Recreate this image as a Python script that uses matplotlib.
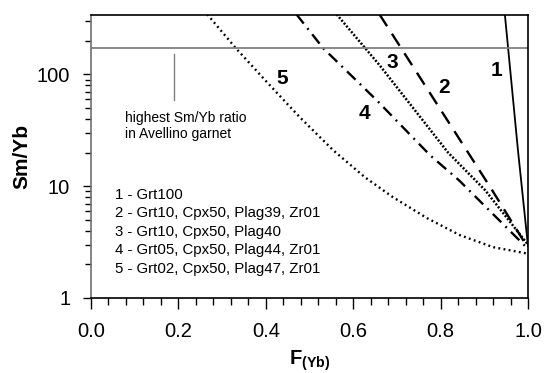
import matplotlib.pyplot as plt
from matplotlib.ticker import LogLocator, NullFormatter, FixedLocator, FixedFormatter, MultipleLocator

plt.rcParams['font.family'] = ['Liberation Sans', 'DejaVu Sans']
plt.rcParams['mathtext.fontset'] = 'custom'
plt.rcParams['mathtext.rm'] = 'Liberation Sans'
plt.rcParams['mathtext.bf'] = 'Liberation Sans:bold'

# curves (F(Yb), Sm/Yb)
f1 = [0.947, 0.977, 1.0]
y1 = [345, 21, 2.9]
f2 = [0.660, 0.874, 0.918, 1.0]
y2 = [345, 17.1, 9.2, 2.8]
f3 = [0.562, 0.661, 0.817, 0.902, 1.0]
y3 = [345, 120, 20, 9.2, 3.0]
f4 = [0.470, 0.531, 0.654, 0.776, 0.842, 1.0]
y4 = [345, 172, 58.6, 18.9, 11.3, 2.75]
f5 = [0.266, 0.330, 0.403, 0.478, 0.554, 0.627, 0.691, 0.769, 0.844, 0.920, 0.993, 1.0]
y5 = [345, 174, 84.9, 41.3, 21.0, 12.0, 7.97, 5.18, 3.65, 2.85, 2.52, 2.48]

garnet_max = 172
curve_ids = ['1', '2', '3', '4', '5']
id_x = [0.929, 0.808, 0.689, 0.625, 0.437]
id_y = [109, 76.5, 128, 44.9, 92]
legend_lines = ['1 - Grt100',
                '2 - Grt10, Cpx50, Plag39, Zr01',
                '3 - Grt10, Cpx50, Plag40',
                '4 - Grt05, Cpx50, Plag44, Zr01',
                '5 - Grt02, Cpx50, Plag47, Zr01']
x_ticks = [0, 0.2, 0.4, 0.6, 0.8, 1.0]
x_labels = ['0.0', '0.2', '0.4', '0.6', '0.8', '1.0']
y_ticks = [1, 10, 100]
y_labels = ['1', '10', '100']

fig = plt.figure(figsize=(5.44, 3.73), dpi=100)
ax = fig.add_axes([0.1673, 0.2011, 0.8033, 0.7587])

ax.plot(f1, y1, color='black', lw=1.3)
ax.plot(f2, y2, color='black', lw=1.7, dashes=(6, 3.8))
ax.plot(f3, y3, color='black', lw=1.8, dashes=(0.8, 0.7))
ax.plot(f4, y4, color='black', lw=1.7, dashes=(5, 2.5, 0.8, 2.5))
ax.plot(f5, y5, color='black', lw=1.7, dashes=(0.8, 1.4))

ax.axhline(garnet_max, color='#808080', lw=1.3)
ax.plot([0.19, 0.19], [151, 58.6], color='#808080', lw=1.0)
ax.text(0.078, 0.636, 'highest Sm/Yb ratio', transform=ax.transAxes,
        fontsize=10, va='center', ha='left')
ax.text(0.078, 0.58, 'in Avellino garnet', transform=ax.transAxes,
        fontsize=10, va='center', ha='left')

for t, x, y in zip(curve_ids, id_x, id_y):
    ax.text(x, y, t, fontsize=15, fontweight='bold', ha='center', va='center')

leg_y = [0.364, 0.300, 0.233, 0.170, 0.102]
for t, y in zip(legend_lines, leg_y):
    ax.text(0.055, y, t, transform=ax.transAxes, fontsize=10.8, va='center', ha='left')

ax.set_yscale('log')
ax.set_xlim(0, 1.0)
ax.set_ylim(1, 340)
ax.xaxis.set_major_locator(FixedLocator(x_ticks))
ax.xaxis.set_major_formatter(FixedFormatter(x_labels))
ax.xaxis.set_minor_locator(MultipleLocator(0.04))
ax.yaxis.set_major_locator(FixedLocator(y_ticks))
ax.yaxis.set_major_formatter(FixedFormatter(y_labels))
ax.yaxis.set_minor_locator(LogLocator(base=10, subs=range(2, 10)))
ax.yaxis.set_minor_formatter(NullFormatter())

ax.tick_params(axis='x', which='major', length=8, width=1, labelsize=14.5, pad=9)
ax.tick_params(axis='x', which='minor', length=5, width=1)
ax.tick_params(axis='y', which='major', length=6, width=1, labelsize=14.5, pad=9)
ax.tick_params(axis='y', which='minor', length=4, width=1)

for s in ['top', 'right', 'bottom']:
    ax.spines[s].set_linewidth(1.2)
ax.spines['left'].set_color('#707070')
ax.spines['left'].set_linewidth(1.2)

ax.set_ylabel('Sm/Yb', fontsize=15, fontweight='bold', labelpad=4)
ax.set_xlabel(r'$\mathbf{F_{(Yb)}}$', fontsize=14.5, labelpad=6)

fig.savefig('out.png', dpi=100)
